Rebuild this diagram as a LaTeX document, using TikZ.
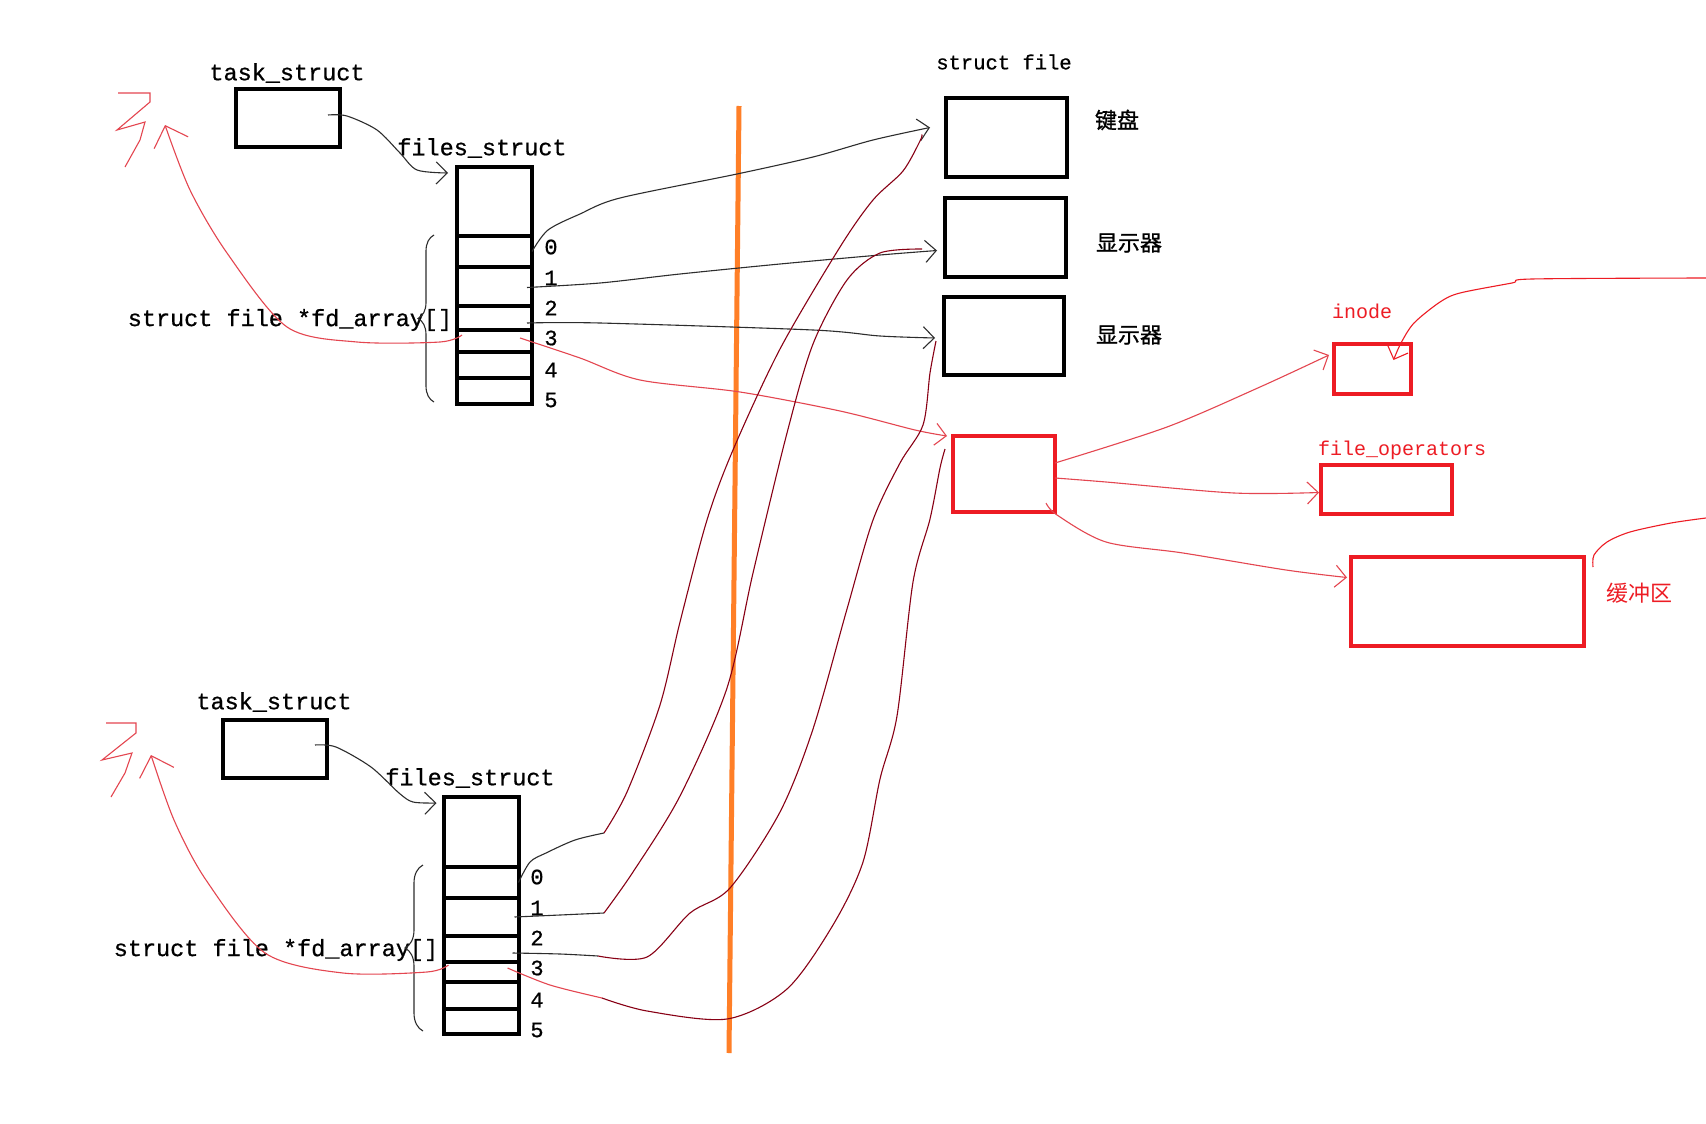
\documentclass[tikz,border=0pt]{standalone}
\usepackage{fontspec}
\setmonofont{Liberation Mono}
\newfontfamily\lblmono{Liberation Mono}[FakeBold=0.7]
\newfontfamily\cjk{Noto Sans CJK SC}[FakeBold=1]
\newfontfamily\cjkred{Noto Sans CJK SC}
\usetikzlibrary{arrows.meta,decorations.pathreplacing}
\definecolor{pred}{RGB}{237,28,36}
\definecolor{thinred}{RGB}{228,70,80}
\definecolor{darkmaroon}{RGB}{136,0,21}
\definecolor{porange}{RGB}{255,127,39}
\definecolor{thinblk}{RGB}{45,45,45}
\begin{document}
\begin{tikzpicture}[x=1pt,y=-1pt,
  blkbox/.style={draw=black,line width=4pt,inner sep=0pt,outer sep=0pt},
  redbox/.style={draw=pred,line width=3.5pt,inner sep=0pt,outer sep=0pt},
  fdcell/.style={draw=black,line width=4pt,inner sep=0pt,outer sep=0pt,minimum width=75pt},
  mono/.style={font=\lblmono\fontsize{23.5}{28}\selectfont,inner sep=0pt},
  smallmono/.style={font=\lblmono\fontsize{20.5}{24}\selectfont,inner sep=0pt},
  digit/.style={font=\lblmono\fontsize{22}{24}\selectfont,inner sep=0pt},
  cjklbl/.style={font=\cjk\fontsize{22}{24}\selectfont,inner sep=0pt},
  redlbl/.style={font=\ttfamily\fontsize{20}{24}\selectfont,text=pred,inner sep=0pt},
  thinline/.style={draw=thinblk,line width=1.1pt},
  redthin/.style={draw=thinred,line width=1.1pt},
  maroonline/.style={draw=darkmaroon,line width=1.1pt},
  barb/.style={-{Straight Barb[length=11pt,width=22pt,line width=1.1pt]}},
  bigbarb/.style={-{Straight Barb[length=18pt,width=36pt,line width=1.1pt]}}
]
\fill[white] (0,0) rectangle (1706,1124);
\useasboundingbox (0,0) rectangle (1706,1124);

% ---------- orange divider ----------
\coordinate (oTop) at (739,106);
\coordinate (oBot) at (729,1053);
\draw[porange,line width=5pt] (oTop) -- (oBot);

% ---------- top process ----------
\node[mono] (tAl) at (287,73) {task\_struct};
\node[blkbox,minimum width=104pt,minimum height=58pt] (tA) at (288,118) {};
\node[mono] (fAl) at (482,148) {files\_struct};
\node[fdcell,minimum height=69pt] (fAh) at (494.5,201.5) {};
\node[fdcell,minimum height=31pt] (fA0) at (494.5,251.5) {};
\node[fdcell,minimum height=39pt] (fA1) at (494.5,286.5) {};
\node[fdcell,minimum height=24pt] (fA2) at (494.5,318) {};
\node[fdcell,minimum height=22pt] (fA3) at (494.5,341) {};
\node[fdcell,minimum height=26pt] (fA4) at (494.5,365) {};
\node[fdcell,minimum height=26pt] (fA5) at (494.5,391) {};
\node[digit] (dA0) at (551,247) {0};
\node[digit] (dA1) at (551,278) {1};
\node[digit] (dA2) at (551,308) {2};
\node[digit] (dA3) at (551,338) {3};
\node[digit] (dA4) at (551,370) {4};
\node[digit] (dA5) at (551,400) {5};
\node[mono] (fdAl) at (290,320) {struct file *fd\_array[]};
\draw[thinline,decorate,decoration={brace,amplitude=16pt}] (434,402) -- (434,235);

% ---------- bottom process ----------
\node[mono] (tBl) at (274,702) {task\_struct};
\node[blkbox,minimum width=104pt,minimum height=58pt] (tB) at (275,749) {};
\node[mono] (fBl) at (470,778) {files\_struct};
\node[fdcell,minimum height=70pt] (fBh) at (481,832) {};
\node[fdcell,minimum height=31pt] (fB0) at (481,882.5) {};
\node[fdcell,minimum height=38pt] (fB1) at (481,917) {};
\node[fdcell,minimum height=26pt] (fB2) at (481,949) {};
\node[fdcell,minimum height=20pt] (fB3) at (481,972) {};
\node[fdcell,minimum height=27pt] (fB4) at (481,995.5) {};
\node[fdcell,minimum height=25pt] (fB5) at (481,1021.5) {};
\node[digit] (dB0) at (537,877) {0};
\node[digit] (dB1) at (537,908) {1};
\node[digit] (dB2) at (537,938) {2};
\node[digit] (dB3) at (537,968) {3};
\node[digit] (dB4) at (537,1000) {4};
\node[digit] (dB5) at (537,1030) {5};
\node[mono] (fdBl) at (276,950) {struct file *fd\_array[]};
\draw[thinline,decorate,decoration={brace,amplitude=18pt}] (423,1031) -- (423,865);

% ---------- struct file objects ----------
\node[smallmono] (sfl) at (1004,62) {struct file};
\node[blkbox,minimum width=121pt,minimum height=79pt] (kb) at (1006.5,137.5) {};
\node[blkbox,minimum width=121pt,minimum height=79pt] (mon1) at (1005.5,237.5) {};
\node[blkbox,minimum width=120pt,minimum height=78pt] (mon2) at (1004,336) {};
\node[cjklbl] (kbl) at (1117,120) {键盘};
\node[cjklbl] (mon1l) at (1129,243) {显示器};
\node[cjklbl] (mon2l) at (1129,335) {显示器};

\node[redbox,minimum width=102pt,minimum height=76pt] (rbox) at (1004,474) {};
\node[redbox,minimum width=77pt,minimum height=50pt] (inode) at (1372.5,369) {};
\node[redbox,minimum width=131pt,minimum height=49pt] (fop) at (1386.5,489.5) {};
\node[redbox,minimum width=233pt,minimum height=89pt] (buf) at (1467.5,601.5) {};
\node[redlbl] (inodel) at (1362,311) {inode};
\node[redlbl] (fopl) at (1402,450) {file\_operators};
\node[font=\cjkred\fontsize{22}{24}\selectfont,text=pred,inner sep=0pt] (bufl) at (1639,593) {缓冲区};

% ---------- task_struct -> files_struct ----------
\draw[thinline,barb] plot[smooth] coordinates {([xshift=-12pt,yshift=3pt]tA.east) (347,116) (377,130) (400,153) (417,170) ([xshift=-9pt,yshift=-6pt]fAh.north west)};
\draw[thinline,barb] plot[smooth] coordinates {([xshift=-12pt,yshift=4pt]tB.east) (336,747) (371,767) (399,793) (413,802) ([xshift=-7pt,yshift=-6pt]fBh.north west)};

% ---------- red back-arrows to the scribble ----------
\draw[redthin,bigbarb] plot[smooth] coordinates {([xshift=5pt,yshift=6pt]fA3.west) (440,342) (357,342) (287,327) (227,253) (190,190) (165,125)};
\draw[redthin] (118,93) -- (150,93) -- (150,102) -- (117,130) -- (145,122) -- (140,140) -- (125,167);
\draw[redthin,bigbarb] plot[smooth] coordinates {([xshift=5pt,yshift=7pt]fB3.west) (427,972) (343,973) (265,953) (206,880) (174,820) (151,755)};
\draw[redthin] (106,723) -- (136,723) -- (136,733) -- (102,760) -- (132,753) -- (125,773) -- (111,797);

% ---------- top fds -> struct file ----------
\draw[thinline,barb] plot[smooth] coordinates {(fA0.east) (548,230) (580,214) (620,198) (737,174) (813,157) (873,140) ([xshift=-16pt,yshift=10pt]kb.west)};
\draw[thinline,barb] plot[smooth] coordinates {([xshift=-5pt,yshift=-1pt]fA1.east) (600,283) (680,274) (780,264) (880,255) ([xshift=-8pt,yshift=-13pt]mon1.west)};
\draw[thinline,barb] plot[smooth] coordinates {([xshift=-5pt,yshift=-5pt]fA2.east) (600,323) (813,330) (880,336) ([xshift=-9pt,yshift=-2pt]mon2.west)};
\draw[redthin,barb] plot[smooth] coordinates {([xshift=-12pt,yshift=3pt]fA3.east) (580,358) (640,380) (740,392) (840,411) (915,430) ([xshift=-6pt]rbox.north west)};

% ---------- bottom fds -> same struct file ----------
\coordinate (jB0) at (604,833);
\coordinate (jB1) at (604,913);
\coordinate (jB2) at (598,956);
\coordinate (jB3) at (602,998);
\draw[thinline] plot[smooth] coordinates {(fB0.east) (530,862) (546,853) (575,840) (jB0)};
\draw[maroonline] plot[smooth] coordinates {(jB0) (627,792) (660,705) (680,622) (707,520) (733,450) (780,349) (840,247) (873,200) (903,171) (920,141) ([xshift=-24pt,yshift=3pt]kb.west)};
\draw[thinline] plot[smooth] coordinates {([xshift=-4pt]fB1.east) (560,915) (jB1)};
\draw[maroonline] plot[smooth] coordinates {(jB1) (633,872) (680,796) (727,688) (753,573) (787,433) (813,344) (847,280) (880,253) ([xshift=-23pt,yshift=-11.5pt]mon1.west)};
\draw[thinline] plot[smooth] coordinates {([xshift=-6pt,yshift=-4pt]fB2.east) (560,954) (jB2)};
\draw[maroonline] plot[smooth] coordinates {(jB2) (647,957) (690,913) (730,888) (780,812) (813,729) (847,609) (873,520) (900,463) (923,425) (930,373) ([xshift=-8pt,yshift=-5pt]mon2.west)};
\draw[redthin] plot[smooth] coordinates {([xshift=-11pt,yshift=4pt]fB3.east) (550,985) (jB3)};
\draw[maroonline] plot[smooth] coordinates {(jB3) (647,1011) (727,1019) (787,989) (833,925) (863,862) (880,779) (897,716) (913,582) (930,519) (940,468) ([xshift=-8pt,yshift=-13pt]rbox.north west)};

% ---------- struct file -> inode / ops / buffer ----------
\draw[redthin,barb] plot[smooth] coordinates {([yshift=11pt]rbox.east) (1167,427) (1260,387) ([xshift=-5pt,yshift=14pt]inode.west)};
\draw[redthin,barb] plot[smooth] coordinates {([yshift=-4pt]rbox.east) (1106,482) (1234,493) ([xshift=-2pt,yshift=-3pt]fop.west)};
\draw[redthin,barb] plot[smooth] coordinates {([xshift=-9pt,yshift=-29pt]rbox.east) ([xshift=2pt,yshift=-41pt]rbox.east) (1106,542) (1183,553) (1286,570) ([xshift=-4pt,yshift=24pt]buf.west)};

\coordinate (edgeA) at (1706,278);
\coordinate (edgeB) at (1706,518);
\draw[draw=pred,line width=1.1pt,barb] plot[smooth] coordinates {(edgeA) (1532,279) (1512,283) (1460,293) (1440,302) (1414,323) (1401,343) ([xshift=21pt,yshift=9pt]inode.center)};
\draw[draw=pred,line width=1.1pt] plot[smooth] coordinates {(edgeB) (1671,523) (1630,532) (1607,542) (1594,555) ([xshift=9pt,yshift=-10pt]buf.north east)};
\end{tikzpicture}
\end{document}
